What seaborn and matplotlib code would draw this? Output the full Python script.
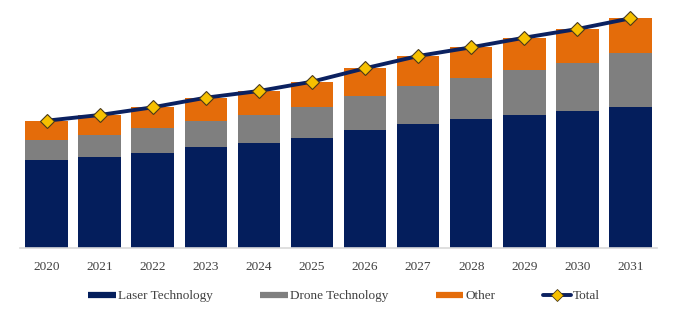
import matplotlib
matplotlib.use("Agg")
import matplotlib.pyplot as plt
from matplotlib.lines import Line2D
import seaborn as sns
import pandas as pd
import numpy as np

years = ["2020", "2021", "2022", "2023", "2024", "2025", "2026", "2027", "2028", "2029", "2030", "2031"]
laser = [88, 91.3, 95.3, 101.3, 104.7, 110.3, 118, 124, 128.7, 133, 137, 141.3]
drone = [20, 21.7, 24.4, 26, 28.3, 31, 34, 38.3, 41.6, 45, 48.3, 53.4]
other = [19.3, 20, 21, 23, 24, 25, 27.7, 29.7, 30.4, 32.3, 33.7, 35]
series_names = ["Laser Technology", "Drone Technology", "Other"]
colors = ["#041e5c", "#7f7f7f", "#e46c0a"]
line_color = "#0b2160"
marker_color = "#f6c000"

sns.set_theme(style="white")
plt.rcParams["font.family"] = ["Liberation Serif", "DejaVu Serif"]

df = pd.DataFrame({"year": years, "Laser Technology": laser,
                   "Drone Technology": drone, "Other": other})
df["Total"] = df[series_names].sum(axis=1)
cum = df[series_names].cumsum(axis=1)

fig = plt.figure(figsize=(6.81, 3.22), dpi=100)
ax = fig.add_axes([20 / 681, 74 / 322, (657 - 20) / 681, (248 - 5) / 322])

# draw cumulative stacks from the top segment down so lower segments overlay
for name, c in reversed(list(zip(series_names, colors))):
    tmp = pd.DataFrame({"year": years, "top": cum[name].values})
    sns.barplot(data=tmp, x="year", y="top", color=c, width=0.8,
                saturation=1, linewidth=0, ax=ax)

sns.lineplot(data=df, x="year", y="Total", ax=ax, color=line_color, lw=2.8,
             marker="D", markersize=7.5, markerfacecolor=marker_color,
             markeredgecolor="#4a3a1a", markeredgewidth=0.8, zorder=5)

ax.set_xlim(-0.5, len(years) - 0.5)
ax.set_ylim(0, 243)
ax.set_xlabel("")
ax.set_ylabel("")
ax.set_yticks([])
for s in ["top", "right", "left"]:
    ax.spines[s].set_visible(False)
ax.spines["bottom"].set_color("#d9d9d9")
ax.spines["bottom"].set_linewidth(1.2)
ax.tick_params(axis="x", length=0, pad=9, labelsize=9.5, labelcolor="#404040")

handles = [Line2D([0], [0], color=c, lw=4.5, solid_capstyle="butt") for c in colors]
handles.append(Line2D([0], [0], color=line_color, lw=2.8, marker="D", markersize=6,
                      markerfacecolor=marker_color, markeredgecolor="#4a3a1a",
                      markeredgewidth=0.6))
fig.legend(handles, series_names + ["Total"], loc="center",
           bbox_to_anchor=(0.505, 26 / 322), ncol=4, frameon=False,
           fontsize=9.5, handlelength=2.1, handletextpad=0.15,
           columnspacing=3.6, labelcolor="#404040")

fig.savefig("out.png", dpi=100)
